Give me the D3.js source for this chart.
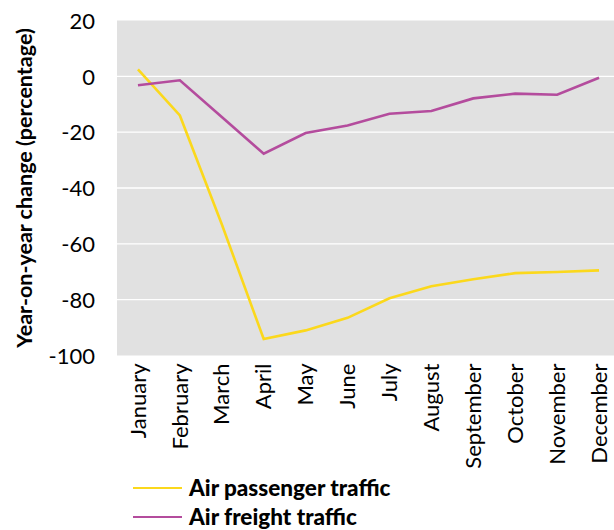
<!DOCTYPE html>
<html>
  <head>
    <meta http-equiv="Content-Type" content="text/html; charset=UTF-8">
    <script src="https://d3js.org/d3.v7.min.js"></script>
    <style>
      body { margin: 0; background: #fff; }
      text { font-family: Lato, "Open Sans", sans-serif; fill: #000; }
    </style>
  </head>
  <body>
    <div id="chart"></div>
    <script>
      var months = ["January", "February", "March", "April", "May", "June",
                    "July", "August", "September", "October", "November", "December"];
      var passenger = [2.5, -14, -53, -94.1, -91, -86.5, -79.5, -75.2, -72.7, -70.5, -70.1, -69.5];
      var freight = [-3.2, -1.4, -14.6, -27.7, -20.3, -17.6, -13.4, -12.4, -7.9, -6.2, -6.6, -0.5];
      var yTicks = [20, 0, -20, -40, -60, -80, -100];
      var seriesNames = ["Air passenger traffic", "Air freight traffic"];
      var seriesColors = ["#fbd81c", "#b44c9d"];

      var width = 614, height = 530;
      var m = { left: 117, right: 620, top: 20.5, bottom: 355.5 };

      var svg = d3.select("#chart").append("svg")
        .attr("width", width).attr("height", height);

      var x = d3.scaleBand().domain(months).range([m.left, m.right]);
      var y = d3.scaleLinear().domain([-100, 20]).range([m.bottom, m.top]);

      svg.append("rect")
        .attr("x", m.left).attr("y", m.top)
        .attr("width", m.right - m.left).attr("height", m.bottom - m.top)
        .attr("fill", "#e1e1e1");

      // gridlines
      svg.append("g").selectAll("line")
        .data(yTicks.filter(function (d) { return d > -100 && d < 20; }))
        .enter().append("line")
        .attr("x1", m.left).attr("x2", m.right)
        .attr("y1", function (d) { return y(d); })
        .attr("y2", function (d) { return y(d); })
        .attr("stroke", "#fff").attr("stroke-width", 1.3);

      // y axis (plain hyphen, like the source)
      var yAxis = svg.append("g")
        .attr("transform", "translate(" + (m.left - 22) + ",0)")
        .call(d3.axisLeft(y).tickValues(yTicks).tickSize(0).tickPadding(0)
          .tickFormat(function (d) { return String(d); }));
      yAxis.select(".domain").remove();
      yAxis.selectAll("text")
        .style("font-size", "22px")
        .attr("dy", "0.35em");

      svg.append("text")
        .attr("transform", "translate(32," + ((m.top + m.bottom) / 2) + ") rotate(-90)")
        .attr("text-anchor", "middle")
        .style("font-size", "21.5px").style("font-weight", "bold")
        .text("Year-on-year change (percentage)");

      // x axis
      var xAxis = svg.append("g")
        .attr("transform", "translate(0," + m.bottom + ")")
        .call(d3.axisBottom(x).tickSize(0).tickPadding(0));
      xAxis.select(".domain").remove();
      xAxis.selectAll("text")
        .style("font-size", "22px")
        .attr("text-anchor", "end")
        .attr("transform", "rotate(-90)")
        .attr("x", -8).attr("y", 0).attr("dy", "0.35em");

      // lines
      var line = d3.line()
        .x(function (d, i) { return x(months[i]) + x.bandwidth() / 2; })
        .y(function (d) { return y(d); });

      [passenger, freight].forEach(function (vals, i) {
        svg.append("path")
          .datum(vals)
          .attr("d", line)
          .attr("fill", "none")
          .attr("stroke", seriesColors[i])
          .attr("stroke-width", 2.6)
          .attr("stroke-linejoin", "miter");
      });

      // legend
      var legend = svg.append("g").selectAll("g")
        .data(seriesNames)
        .enter().append("g")
        .attr("transform", function (d, i) { return "translate(133," + (488 + i * 29) + ")"; });
      legend.append("line")
        .attr("x1", 0).attr("x2", 49)
        .attr("stroke", function (d, i) { return seriesColors[i]; })
        .attr("stroke-width", 2.2);
      legend.append("text")
        .attr("x", 56).attr("dy", "0.35em")
        .style("font-size", "22.5px").style("font-weight", "900")
        .text(function (d) { return d; });
    </script>
  </body>
</html>
